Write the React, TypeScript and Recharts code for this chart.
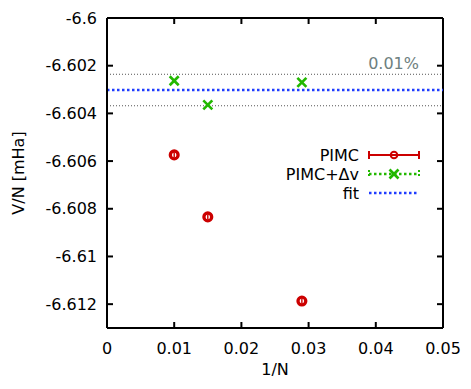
import React from 'react';
import { ScatterChart, Scatter, XAxis, YAxis, ReferenceLine, Label } from 'recharts';

// 1/N values of the simulations
const invN = [0.01, 0.015, 0.029];
// V/N [mHa]
const pimc = [-6.60574, -6.60834, -6.61187];
const pimcDv = [-6.60263, -6.60364, -6.6027];
const fitValue = -6.60302;
const bandValues = [-6.60236, -6.60368]; // fit +/- 0.01%

const xTicks = [0, 0.01, 0.02, 0.03, 0.04, 0.05];
const yTicks = [-6.6, -6.602, -6.604, -6.606, -6.608, -6.61, -6.612];
const xDomain = [0, 0.05];
const yDomain = [-6.613, -6.6];

const RED = '#cc0000';
const GREEN = '#22b800';
const BLUE = '#1f3cff';
const FONT = '"DejaVu Sans", sans-serif';

// plot box (layout), matches the chart margins + axis sizes below
const PLOT = { left: 107, right: 443, top: 18, bottom: 328 };
const TICK_LEN = 6;
const tickPx = (v: number) => PLOT.left + ((v - xDomain[0]) / (xDomain[1] - xDomain[0])) * (PLOT.right - PLOT.left);
const tickPy = (v: number) => PLOT.top + ((yDomain[1] - v) / (yDomain[1] - yDomain[0])) * (PLOT.bottom - PLOT.top);

const pimcData = invN.map((x, i) => ({ x, y: pimc[i] }));
const pimcDvData = invN.map((x, i) => ({ x, y: pimcDv[i] }));

const legendItems = [
  { name: 'PIMC', color: RED, kind: 'circle' },
  { name: 'PIMC+Δv', color: GREEN, kind: 'cross' },
  { name: 'fit', color: BLUE, kind: 'line' },
];

const CircleMark = (props: any) => {
  const { cx, cy } = props;
  return (
    <g>
      <circle cx={cx} cy={cy} r={3.9} fill="#fff" stroke={RED} strokeWidth={3.3} />
      <line x1={cx} y1={cy - 2.5} x2={cx} y2={cy + 2.5} stroke={RED} strokeWidth={1.4} />
    </g>
  );
};

const CrossMark = (props: any) => {
  const { cx, cy } = props;
  const s = 4.5;
  return (
    <g stroke={GREEN} strokeWidth={2.6}>
      <line x1={cx - s} y1={cy - s} x2={cx + s} y2={cy + s} />
      <line x1={cx - s} y1={cy + s} x2={cx + s} y2={cy - s} />
    </g>
  );
};

const fmtY = (v: number) => String(Number(v.toFixed(3)));

function Overlay() {
  const textRight = 359;
  const x1 = 369;
  const x2 = 419;
  const top = 155;
  const step = 19;
  return (
    <svg width={471} height={389} style={{ position: 'absolute', left: 0, top: 0, pointerEvents: 'none' }}>
      {/* inward tick marks on all four sides */}
      <g stroke="#000" strokeWidth={2}>
        {xTicks.map((t) => (
          <g key={`x${t}`}>
            <line x1={tickPx(t)} y1={PLOT.bottom} x2={tickPx(t)} y2={PLOT.bottom - TICK_LEN} />
            <line x1={tickPx(t)} y1={PLOT.top} x2={tickPx(t)} y2={PLOT.top + TICK_LEN} />
          </g>
        ))}
        {yTicks.map((t) => (
          <g key={`y${t}`}>
            <line x1={PLOT.left} y1={tickPy(t)} x2={PLOT.left + TICK_LEN} y2={tickPy(t)} />
            <line x1={PLOT.right} y1={tickPy(t)} x2={PLOT.right - TICK_LEN} y2={tickPy(t)} />
          </g>
        ))}
      </g>
      {legendItems.map((item, i) => {
        const y = top + i * step;
        const mid = (x1 + x2) / 2;
        return (
          <g key={item.name}>
            <text x={textRight} y={y + 5.5} textAnchor="end" fontFamily={FONT} fontSize={16} fill="#000">
              {item.name}
            </text>
            {item.kind === 'circle' && (
              <g stroke={RED} strokeWidth={2}>
                <line x1={x1} y1={y} x2={x2} y2={y} />
                <line x1={x1} y1={y - 4} x2={x1} y2={y + 4} />
                <line x1={x2} y1={y - 4} x2={x2} y2={y + 4} />
                <circle cx={mid} cy={y} r={3.3} fill="#fff" strokeWidth={2} />
                <line x1={mid - 3} y1={y} x2={mid + 3} y2={y} />
              </g>
            )}
            {item.kind === 'cross' && (
              <g>
                <line x1={x1} y1={y} x2={x2} y2={y} stroke={GREEN} strokeWidth={2.4} strokeDasharray="2.5 2.5" />
                <line x1={x1} y1={y - 4} x2={x1} y2={y + 4} stroke={GREEN} strokeWidth={2} strokeDasharray="2 2" />
                <line x1={x2} y1={y - 4} x2={x2} y2={y + 4} stroke={GREEN} strokeWidth={2} strokeDasharray="2 2" />
                <CrossMark cx={mid} cy={y} />
              </g>
            )}
            {item.kind === 'line' && (
              <line x1={x1} y1={y} x2={x2} y2={y} stroke={BLUE} strokeWidth={2.4} strokeDasharray="2.5 2.5" />
            )}
          </g>
        );
      })}
    </svg>
  );
}

export default function App() {
  const axisStroke = { stroke: '#000', strokeWidth: 2 };
  const tickStyle = { fill: '#000', fontSize: 16, fontFamily: FONT };
  return (
    <div style={{ position: 'fixed', left: 0, top: 0, width: 471, height: 389, background: '#fff' }}>
      <ScatterChart width={471} height={389} margin={{ top: 18, right: 28, left: 0, bottom: 0 }}>
        <XAxis xAxisId="x" type="number" dataKey="x" height={61} domain={xDomain} ticks={xTicks}
          tickLine={false} tickSize={6} tickMargin={9} axisLine={axisStroke} tick={tickStyle}>
          <Label value="1/N" position="insideBottom" offset={14} fill="#000" fontSize={16} fontFamily={FONT} />
        </XAxis>
        <YAxis yAxisId="y" type="number" dataKey="y" width={107} domain={yDomain} ticks={yTicks}
          tickLine={false} tickSize={4} tickMargin={6} axisLine={axisStroke}
          tick={tickStyle} tickFormatter={fmtY}>
          <Label
            content={(p: any) => {
              const vb = p.viewBox || { y: 18, height: 310 };
              const cy = vb.y + vb.height / 2;
              return (
                <text x={24} y={cy} transform={`rotate(-90 24 ${cy})`} textAnchor="middle"
                  fontSize={16} fontFamily={FONT} fill="#000">
                  V/N [mHa]
                </text>
              );
            }}
          />
        </YAxis>

        {/* top and right frame */}
        <ReferenceLine xAxisId="x" yAxisId="y" y={yDomain[1]} stroke="#000" strokeWidth={2} />
        <ReferenceLine xAxisId="x" yAxisId="y" x={xDomain[1]} stroke="#000" strokeWidth={2} />

        {bandValues.map((v, i) => (
          <ReferenceLine key={v} xAxisId="x" yAxisId="y" y={v} stroke="#555" strokeWidth={1}
            strokeDasharray="1 2">
            {i === 0 && (
              <Label
                content={(p: any) => {
                  const vb = p.viewBox;
                  if (!vb) return null;
                  return (
                    <text x={vb.x + vb.width - 24} y={vb.y - 5} textAnchor="end" fontSize={16}
                      fontFamily={FONT} fill="#6e7f80">
                      0.01%
                    </text>
                  );
                }}
              />
            )}
          </ReferenceLine>
        ))}
        <ReferenceLine xAxisId="x" yAxisId="y" y={fitValue} stroke={BLUE} strokeWidth={2.4}
          strokeDasharray="2.5 2.5" />

        <Scatter xAxisId="x" yAxisId="y" name="PIMC" data={pimcData} shape={CircleMark}
          isAnimationActive={false} />
        <Scatter xAxisId="x" yAxisId="y" name="PIMC+Δv" data={pimcDvData} shape={CrossMark}
          isAnimationActive={false} />
      </ScatterChart>
      <Overlay />
    </div>
  );
}
